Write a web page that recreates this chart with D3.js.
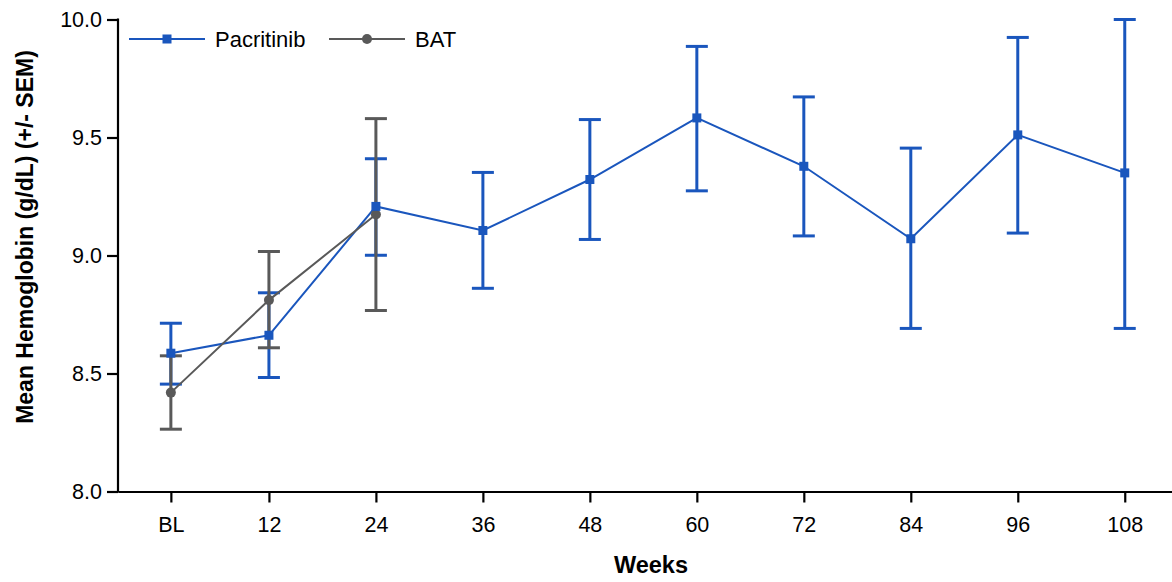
<!DOCTYPE html>
<html>
<head>
<meta charset="utf-8">
<script src="https://cdn.jsdelivr.net/npm/d3@7"></script>
<style>
  body { margin: 0; background: #fff; }
  svg text { font-family: "Liberation Sans", Arial, sans-serif; fill: #000; }
</style>
</head>
<body>
<div id="chart"></div>
<script>
// x labels and the week each visit sits at (baseline sits a little after week 0)
const tickLabels = ['BL', '12', '24', '36', '48', '60', '72', '84', '96', '108'];
const weeks = [1, 12, 24, 36, 48, 60, 72, 84, 96, 108];

// Pacritinib: mean and +/- SEM bounds
const pacMean = [8.586, 8.662, 9.208, 9.106, 9.322, 9.583, 9.378, 9.071, 9.511, 9.35];
const pacLow  = [8.455, 8.483, 9.001, 8.861, 9.068, 9.274, 9.083, 8.691, 9.095, 8.691];
const pacHigh = [8.713, 8.842, 9.41, 9.352, 9.576, 9.886, 9.672, 9.455, 9.924, 10.0];

// BAT only goes to week 24
const batMean = [8.419, 8.811, 9.174];
const batLow  = [8.264, 8.609, 8.767];
const batHigh = [8.575, 9.017, 9.58];

const yTicks = [8.0, 8.5, 9.0, 9.5, 10.0];

const width = 1172, height = 582;
const blue = '#1a56bd', gray = '#595959';

const svg = d3.select('#chart').append('svg')
  .attr('width', width)
  .attr('height', height);

const x = d3.scaleLinear().domain([-4.93, 113.3]).range([118, 1172]);
const y = d3.scaleLinear().domain([8, 10]).range([491.5, 19.5]);

// axes
const xAxis = d3.axisBottom(x)
  .tickValues(weeks)
  .tickFormat((d, i) => tickLabels[i])
  .tickSize(11)
  .tickPadding(14)
  .tickSizeOuter(0);

const yAxis = d3.axisLeft(y)
  .tickValues(yTicks)
  .tickFormat(d3.format('.1f'))
  .tickSize(11)
  .tickPadding(5)
  .tickSizeOuter(0);

const gx = svg.append('g').attr('transform', `translate(0,${y(8)})`).call(xAxis);
const gy = svg.append('g').attr('transform', `translate(${x.range()[0]},0)`).call(yAxis);

[gx, gy].forEach(g => {
  g.select('.domain').attr('stroke', '#000').attr('stroke-width', 2.2);
  g.selectAll('.tick line').attr('stroke', '#000').attr('stroke-width', 2.2);
  g.selectAll('.tick text').style('font-size', '21.5px').attr('fill', '#000');
});
gy.select('.domain').attr('d', `M0,${y(10) - 1}V${y(8) + 1}`);

// axis titles
svg.append('text')
  .attr('x', 651).attr('y', 573)
  .attr('text-anchor', 'middle')
  .style('font-size', '23.5px').style('font-weight', 'bold')
  .text('Weeks');

svg.append('text')
  .attr('transform', `translate(32.5,237) rotate(-90)`)
  .attr('text-anchor', 'middle')
  .style('font-size', '23px').style('font-weight', 'bold')
  .text('Mean Hemoglobin (g/dL) (+/- SEM)');

// error bars
function errorBars(mean, low, high, color) {
  const g = svg.append('g').attr('stroke', color).attr('stroke-width', 3);
  mean.forEach((m, i) => {
    const cx = x(weeks[i]);
    g.append('line').attr('x1', cx).attr('x2', cx).attr('y1', y(low[i])).attr('y2', y(high[i]));
    g.append('line').attr('x1', cx - 11).attr('x2', cx + 11).attr('y1', y(low[i])).attr('y2', y(low[i]));
    g.append('line').attr('x1', cx - 11).attr('x2', cx + 11).attr('y1', y(high[i])).attr('y2', y(high[i]));
  });
}

const line = d3.line()
  .x((d, i) => x(weeks[i]))
  .y(d => y(d));

errorBars(pacMean, pacLow, pacHigh, blue);
svg.append('path').datum(pacMean)
  .attr('d', line).attr('fill', 'none').attr('stroke', blue).attr('stroke-width', 2);

errorBars(batMean, batLow, batHigh, gray);
svg.append('path').datum(batMean)
  .attr('d', line).attr('fill', 'none').attr('stroke', gray).attr('stroke-width', 2);

svg.append('g').selectAll('circle').data(batMean).join('circle')
  .attr('cx', (d, i) => x(weeks[i]))
  .attr('cy', d => y(d))
  .attr('r', 5)
  .attr('fill', gray);

svg.append('g').selectAll('rect').data(pacMean).join('rect')
  .attr('x', (d, i) => x(weeks[i]) - 4.5)
  .attr('y', d => y(d) - 4.5)
  .attr('width', 9).attr('height', 9)
  .attr('fill', blue);

// legend
const legend = [
  { name: 'Pacritinib', color: blue, shape: 'square', x0: 129 },
  { name: 'BAT', color: gray, shape: 'circle', x0: 329 }
];
const lg = svg.append('g');
legend.forEach(l => {
  const ly = 39;
  lg.append('line').attr('x1', l.x0).attr('x2', l.x0 + 76).attr('y1', ly).attr('y2', ly)
    .attr('stroke', l.color).attr('stroke-width', 2);
  if (l.shape === 'square') {
    lg.append('rect').attr('x', l.x0 + 38 - 4.5).attr('y', ly - 4.5).attr('width', 9).attr('height', 9).attr('fill', l.color);
  } else {
    lg.append('circle').attr('cx', l.x0 + 38).attr('cy', ly).attr('r', 5).attr('fill', l.color);
  }
  lg.append('text').attr('x', l.x0 + 86).attr('y', ly + 7.5)
    .style('font-size', '22px')
    .text(l.name);
});
</script>
</body>
</html>
